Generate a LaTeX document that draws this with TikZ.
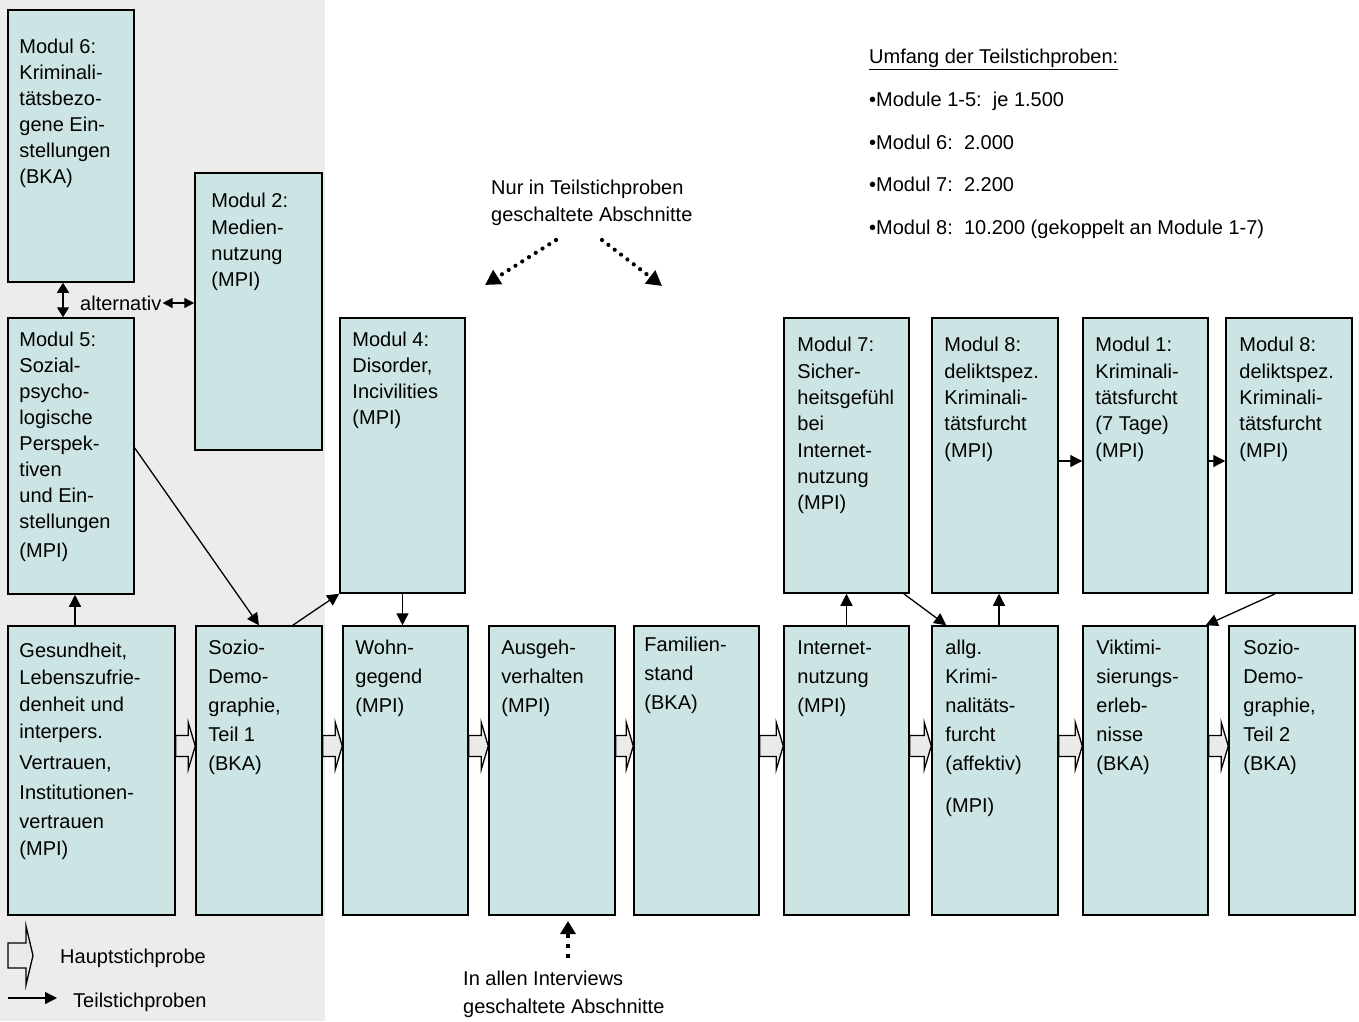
\documentclass[tikz,border=0pt]{standalone}
\usepackage{fontspec}
\setmainfont{Liberation Sans}
\usetikzlibrary{arrows.meta,calc}
\definecolor{boxfill}{RGB}{204,228,228}
\definecolor{bggray}{RGB}{236,236,236}
\definecolor{arrgray}{RGB}{234,234,234}
\newcommand\hollowarr[2]{%
  \draw[hollowst] let \p1=([yshift=24.5pt]#1.east), \p2=(#2.west) in
   (\x1,\y1-10.5pt) -- (\x2-7pt,\y1-10.5pt) -- (\x2-7pt,\y1-23.5pt) -- (\x2,\y1)
   -- (\x2-7pt,\y1+23.5pt) -- (\x2-7pt,\y1+10.5pt) -- (\x1,\y1+10.5pt) -- cycle;}
\begin{document}
\begin{tikzpicture}[x=1pt,y=-1pt,
  font=\fontsize{20}{26}\selectfont,
  box/.style={draw=black, line width=1.5pt, fill=boxfill, inner sep=0pt},
  txt/.style={anchor=north west, align=left, inner sep=0pt},
  txtb/.style={txt, font=\fontsize{20}{29}\selectfont},
  tarr/.style={line width=1.3pt, -{Triangle[length=12pt,width=12pt]}},
  hollowst/.style={draw=black, line width=1.3pt, fill=arrgray, line join=miter},
  dotarr/.style={line width=4.2pt, line cap=round, dash pattern=on 0pt off 8pt, -{Triangle[length=15pt,width=16pt]}},
  dasharr/.style={line width=4.5pt, dash pattern=on 4pt off 6pt, -{Triangle[length=13pt,width=15pt]}}
]
\useasboundingbox (0,0) rectangle (1359,1021);
\fill[bggray] (0,0) rectangle (325,1021);

% upper boxes
\node[box, minimum width=126pt, minimum height=272pt] (m6) at (71,146) {};
\node[box, minimum width=127pt, minimum height=277pt] (m2) at (258.5,311.5) {};
\node[box, minimum width=126pt, minimum height=276pt] (m5) at (71,456) {};
\node[box, minimum width=125pt, minimum height=275pt] (m4) at (402.5,455.5) {};
\node[box, minimum width=125pt, minimum height=275pt] (m7) at (846.5,455.5) {};
\node[box, minimum width=126pt, minimum height=275pt] (m8a) at (995,455.5) {};
\node[box, minimum width=125pt, minimum height=275pt] (m1) at (1145.5,455.5) {};
\node[box, minimum width=126pt, minimum height=275pt] (m8b) at (1289,455.5) {};

% lower boxes
\node[box, minimum width=167pt, minimum height=289pt] (g) at (91.5,770.5) {};
\node[box, minimum width=126pt, minimum height=289pt] (s1) at (259,770.5) {};
\node[box, minimum width=125pt, minimum height=289pt] (w) at (405.5,770.5) {};
\node[box, minimum width=126pt, minimum height=289pt] (a) at (552,770.5) {};
\node[box, minimum width=125pt, minimum height=289pt] (f) at (696.5,770.5) {};
\node[box, minimum width=125pt, minimum height=289pt] (in) at (846.5,770.5) {};
\node[box, minimum width=126pt, minimum height=289pt] (ak) at (995,770.5) {};
\node[box, minimum width=125pt, minimum height=289pt] (vk) at (1145.5,770.5) {};
\node[box, minimum width=126pt, minimum height=289pt] (s2) at (1292,770.5) {};

% texts upper
\node[txt] (m6t) at ([xshift=12pt,yshift=-30pt]m6.north west) {Modul 6:\\Kriminali-\\tätsbezo-\\gene Ein-\\stellungen\\(BKA)};
\node[txt, font=\fontsize{20}{26.3}\selectfont] (m2t) at ([xshift=17pt,yshift=-21pt]m2.north west) {Modul 2:\\Medien-\\nutzung\\(MPI)};
\node[txt] (m5t) at ([xshift=12pt,yshift=-15pt]m5.north west) {Modul 5:\\Sozial-\\psycho-\\logische\\Perspek-\\tiven\\und Ein-\\stellungen\\[3pt](MPI)};
\node[txt, font=\fontsize{20}{25.7}\selectfont] (m4t) at ([xshift=13pt,yshift=-15pt]m4.north west) {Modul 4:\\Disorder,\\Incivilities\\(MPI)};
\node[txt, font=\fontsize{20}{26.3}\selectfont] (m7t) at ([xshift=14pt,yshift=-20pt]m7.north west) {Modul 7:\\Sicher-\\heitsgefühl\\bei\\Internet-\\nutzung\\(MPI)};
\node[txt, font=\fontsize{20}{26.3}\selectfont] (m8at) at ([xshift=13pt,yshift=-20pt]m8a.north west) {Modul 8:\\deliktspez.\\Kriminali-\\tätsfurcht\\(MPI)};
\node[txt, font=\fontsize{20}{26.3}\selectfont] (m1t) at ([xshift=13pt,yshift=-20pt]m1.north west) {Modul 1:\\Kriminali-\\tätsfurcht\\(7 Tage)\\(MPI)};
\node[txt, font=\fontsize{20}{26.3}\selectfont] (m8bt) at ([xshift=14pt,yshift=-20pt]m8b.north west) {Modul 8:\\deliktspez.\\Kriminali-\\tätsfurcht\\(MPI)};

% texts lower
\node[txt, font=\fontsize{20}{26.7}\selectfont] (gt) at ([xshift=12pt,yshift=-18pt]g.north west) {Gesundheit,\\Lebenszufrie-\\denheit und\\interpers.\\[5pt]Vertrauen,\\[3pt]Institutionen-\\[2pt]vertrauen\\[1pt](MPI)};
\node[txtb] (s1t) at ([xshift=13pt,yshift=-15pt]s1.north west) {Sozio-\\Demo-\\graphie,\\Teil 1\\(BKA)};
\node[txtb] (wt) at ([xshift=13pt,yshift=-15pt]w.north west) {Wohn-\\gegend\\(MPI)};
\node[txtb] (at) at ([xshift=13pt,yshift=-15pt]a.north west) {Ausgeh-\\verhalten\\(MPI)};
\node[txtb] (ft) at ([xshift=11pt,yshift=-12pt]f.north west) {Familien-\\stand\\(BKA)};
\node[txtb] (int) at ([xshift=14pt,yshift=-15pt]in.north west) {Internet-\\nutzung\\(MPI)};
\node[txtb] (akt) at ([xshift=14pt,yshift=-15pt]ak.north west) {allg.\\Krimi-\\nalitäts-\\furcht\\(affektiv)\\[13pt](MPI)};
\node[txtb] (vkt) at ([xshift=14pt,yshift=-15pt]vk.north west) {Viktimi-\\sierungs-\\erleb-\\nisse\\(BKA)};
\node[txtb] (s2t) at ([xshift=15pt,yshift=-15pt]s2.north west) {Sozio-\\Demo-\\graphie,\\Teil 2\\(BKA)};

% hollow arrows (main sample)
\hollowarr{g}{s1}
\hollowarr{s1}{w}
\hollowarr{w}{a}
\hollowarr{a}{f}
\hollowarr{f}{in}
\hollowarr{in}{ak}
\hollowarr{ak}{vk}
\hollowarr{vk}{s2}

% thin arrows (sub samples)
\draw[tarr] ([xshift=4pt]m5.south |- g.north) -- ([xshift=4pt]m5.south);
\draw[tarr] ([yshift=8pt]m5.east) -- (s1.north);
\draw[tarr] ([xshift=-30pt]s1.north east) -- (m4.south west);
\draw[tarr] (m4.south) -- (m4.south |- w.north);
\draw[tarr] (in.north) -- (m7.south);
\draw[tarr] ([xshift=-6pt]m7.south east) -- ([xshift=15pt]ak.north west);
\draw[tarr] ([xshift=4pt]ak.north) -- ([xshift=4pt]m8a.south);
\draw[tarr] ([xshift=50pt]m8b.south west) -- ([xshift=-3pt]vk.north east);
\draw[tarr] ([yshift=-5.5pt]m8a.east) -- ([yshift=-5.5pt]m8a.east -| m1.west);
\draw[tarr] ([yshift=-5.5pt]m1.east) -- ([yshift=-5.5pt]m1.east -| m8b.west);

% alternativ
\node[anchor=west, inner sep=0pt] (alt) at (80,303) {alternativ};
\draw[line width=1.3pt, {Triangle[length=10pt,width=12pt]}-{Triangle[length=10pt,width=12pt]}] ([xshift=-8pt]m6.south) -- ([xshift=-8pt]m5.north);
\draw[line width=1.3pt, {Triangle[length=10pt,width=10pt]}-{Triangle[length=10pt,width=10pt]}] ([xshift=1pt]alt.east) -- (alt.east -| m2.west);

% annotations
\node[txt, font=\fontsize{20}{27}\selectfont] (nur) at (491,180) {Nur in Teilstichproben\\geschaltete Abschnitte};
\coordinate (d1s) at (556,240);
\coordinate (d1e) at (485,285);
\coordinate (d2s) at (602,240);
\coordinate (d2e) at (662,286);
\draw[dotarr] (d1s) -- (d1e);
\draw[dotarr] (d2s) -- (d2e);

\node[txt, font=\fontsize{20}{28}\selectfont] (ia) at (463,971) {In allen Interviews\\geschaltete Abschnitte};
\coordinate (d3s) at (568,958);
\coordinate (d3e) at (568,921);
\draw[dasharr] (d3s) -- (d3e);

% legend
\draw[hollowst] (8,943) -- (26,943) -- (26,926) -- (33,955.5) -- (26,985) -- (26,968) -- (8,968) -- cycle;
\node[txt] (hs) at (60,949) {Hauptstichprobe};
\coordinate (lg1) at (8,998);
\coordinate (lg2) at (57,998);
\draw[tarr] (lg1) -- (lg2);
\node[txt] (ts) at (73,993) {Teilstichproben};

% sample sizes
\node[txt, font=\fontsize{20}{42.75}\selectfont] (umf) at (869,49) {\underline{Umfang der Teilstichproben:}\\•Module 1-5:\ \ je 1.500\\•Modul 6:\ \ 2.000\\•Modul 7:\ \ 2.200\\•Modul 8:\ \ 10.200 (gekoppelt an Module 1-7)};
\end{tikzpicture}
\end{document}
